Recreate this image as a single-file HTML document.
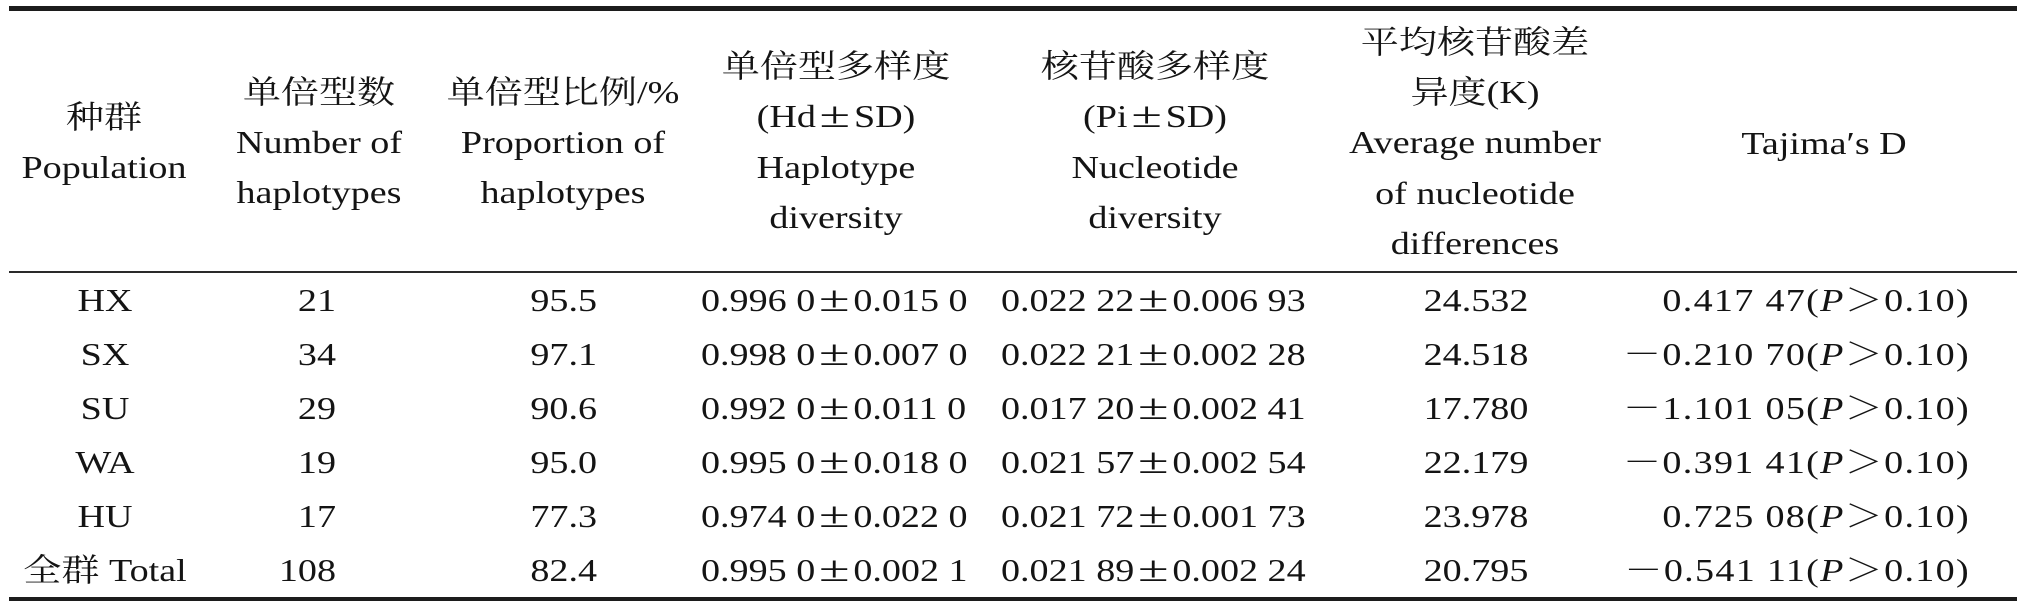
<!DOCTYPE html>
<html>
<head>
<meta charset="utf-8">
<style>
  html, body { margin:0; padding:0; }
  body {
    width:2024px; height:608px; background:#fff; position:relative; overflow:hidden;
    font-family:"Liberation Serif","Noto Serif CJK SC",serif; font-size:32px; color:#141414;
  }
  .ln { position:absolute; left:9px; width:2008px; background:#1c1c1c; }
  .t { position:absolute; white-space:nowrap; line-height:50px; transform:scaleX(1.19); }
  .c { text-align:center; width:600px; transform-origin:50% 50%; }
  .r { text-align:right; width:600px; transform-origin:100% 50%; }
  .l { text-align:left; transform-origin:0 50%; }
  .pm { display:inline-block; width:32px; text-align:center; font-size:36px; line-height:30px; transform:scaleX(1.3); }
  .h4 { line-height:50.5px; }
  .h6 { line-height:50.2px; }
  .tj { letter-spacing:1.1px; }
</style>
</head>
<body>
  <!-- rules -->
  <div class="ln" style="top:6px;height:5px;"></div>
  <div class="ln" style="top:271px;height:2px;background:#2a2a2a;"></div>
  <div class="ln" style="top:597px;height:4px;"></div>

  <!-- header -->
  <div class="t c" style="left:-196px;top:92px;">种群<br>Population</div>
  <div class="t c" style="left:19px;top:67px;">单倍型数<br>Number of<br>haplotypes</div>
  <div class="t c" style="left:263px;top:67px;">单倍型比例/%<br>Proportion of<br>haplotypes</div>
  <div class="t c h4" style="left:536px;top:40.5px;">单倍型多样度<br>(Hd<span class="pm">±</span>SD)<br>Haplotype<br>diversity</div>
  <div class="t c h4" style="left:855px;top:40.5px;">核苷酸多样度<br>(Pi<span class="pm">±</span>SD)<br>Nucleotide<br>diversity</div>
  <div class="t c h6" style="left:1175px;top:17px;">平均核苷酸差<br>异度(K)<br>Average number<br>of nucleotide<br>differences</div>
  <div class="t c" style="left:1524px;top:118px;">Tajima′s D</div>

  <!-- col1 -->
  <div class="t c" style="left:-195px;top:275px;">HX</div>
  <div class="t c" style="left:-195px;top:329px;">SX</div>
  <div class="t c" style="left:-195px;top:383px;">SU</div>
  <div class="t c" style="left:-195px;top:437px;">WA</div>
  <div class="t c" style="left:-195px;top:491px;">HU</div>
  <div class="t c" style="left:-195px;top:545px;">全群 Total</div>

  <!-- col2 -->
  <div class="t r" style="left:-264px;top:275px;">21</div>
  <div class="t r" style="left:-264px;top:329px;">34</div>
  <div class="t r" style="left:-264px;top:383px;">29</div>
  <div class="t r" style="left:-264px;top:437px;">19</div>
  <div class="t r" style="left:-264px;top:491px;">17</div>
  <div class="t r" style="left:-264px;top:545px;">108</div>

  <!-- col3 -->
  <div class="t r" style="left:-3px;top:275px;">95.5</div>
  <div class="t r" style="left:-3px;top:329px;">97.1</div>
  <div class="t r" style="left:-3px;top:383px;">90.6</div>
  <div class="t r" style="left:-3px;top:437px;">95.0</div>
  <div class="t r" style="left:-3px;top:491px;">77.3</div>
  <div class="t r" style="left:-3px;top:545px;">82.4</div>

  <!-- col4 -->
  <div class="t l" style="left:701px;top:275px;">0.996 0<span class="pm">±</span>0.015 0</div>
  <div class="t l" style="left:701px;top:329px;">0.998 0<span class="pm">±</span>0.007 0</div>
  <div class="t l" style="left:701px;top:383px;">0.992 0<span class="pm">±</span>0.011 0</div>
  <div class="t l" style="left:701px;top:437px;">0.995 0<span class="pm">±</span>0.018 0</div>
  <div class="t l" style="left:701px;top:491px;">0.974 0<span class="pm">±</span>0.022 0</div>
  <div class="t l" style="left:701px;top:545px;">0.995 0<span class="pm">±</span>0.002 1</div>

  <!-- col5 -->
  <div class="t l" style="left:1001px;top:275px;">0.022 22<span class="pm">±</span>0.006 93</div>
  <div class="t l" style="left:1001px;top:329px;">0.022 21<span class="pm">±</span>0.002 28</div>
  <div class="t l" style="left:1001px;top:383px;">0.017 20<span class="pm">±</span>0.002 41</div>
  <div class="t l" style="left:1001px;top:437px;">0.021 57<span class="pm">±</span>0.002 54</div>
  <div class="t l" style="left:1001px;top:491px;">0.021 72<span class="pm">±</span>0.001 73</div>
  <div class="t l" style="left:1001px;top:545px;">0.021 89<span class="pm">±</span>0.002 24</div>

  <!-- col6 -->
  <div class="t c" style="left:1176px;top:275px;">24.532</div>
  <div class="t c" style="left:1176px;top:329px;">24.518</div>
  <div class="t c" style="left:1176px;top:383px;">17.780</div>
  <div class="t c" style="left:1176px;top:437px;">22.179</div>
  <div class="t c" style="left:1176px;top:491px;">23.978</div>
  <div class="t c" style="left:1176px;top:545px;">20.795</div>

  <!-- col7 -->
  <div class="t r tj" style="left:1370px;top:275px;">0.417 47(<i>P</i>＞0.10)</div>
  <div class="t r tj" style="left:1370px;top:329px;">－0.210 70(<i>P</i>＞0.10)</div>
  <div class="t r tj" style="left:1370px;top:383px;">－1.101 05(<i>P</i>＞0.10)</div>
  <div class="t r tj" style="left:1370px;top:437px;">－0.391 41(<i>P</i>＞0.10)</div>
  <div class="t r tj" style="left:1370px;top:491px;">0.725 08(<i>P</i>＞0.10)</div>
  <div class="t r tj" style="left:1370px;top:545px;">－0.541 11(<i>P</i>＞0.10)</div>
</body>
</html>
